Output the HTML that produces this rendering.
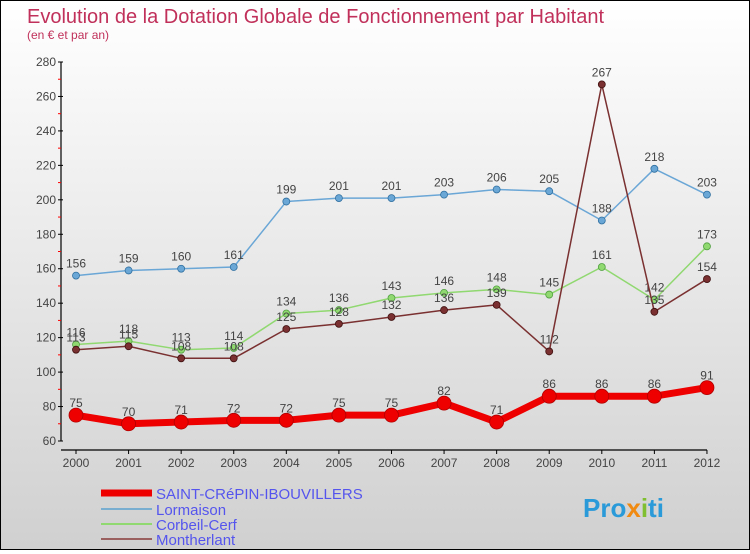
<!DOCTYPE html>
<html><head><meta charset="utf-8"><style>
html,body{margin:0;padding:0}
body{width:750px;height:550px;overflow:hidden;font-family:"Liberation Sans",sans-serif}
#c{position:absolute;left:0;top:0;width:748px;height:548px;border:1px solid #000;background:linear-gradient(#fff,#d0d0d0)}
</style></head><body>
<div id="c">
<svg id="s" width="748" height="548" xmlns="http://www.w3.org/2000/svg">
<text x="26" y="22" font-size="20" fill="#c0305a">Evolution de la Dotation Globale de Fonctionnement par Habitant</text>
<text x="26" y="38" font-size="12" fill="#c0305a">(en € et par an)</text>
<g id="axes"></g><g id="series"></g>
<g>
<line x1="100" y1="492" x2="151" y2="492" stroke="#e00" stroke-width="7"/>
<text x="155" y="498" font-size="15" fill="#5555ee">SAINT-CRéPIN-IBOUVILLERS</text>
<line x1="100" y1="508" x2="151" y2="508" stroke="#7aaed0" stroke-width="2"/>
<text x="155" y="514" font-size="15" fill="#5555ee">Lormaison</text>
<line x1="100" y1="523" x2="151" y2="523" stroke="#90d870" stroke-width="2"/>
<text x="155" y="529" font-size="15" fill="#5555ee">Corbeil-Cerf</text>
<line x1="100" y1="538" x2="151" y2="538" stroke="#9a6060" stroke-width="2"/>
<text x="155" y="544" font-size="15" fill="#5555ee">Montherlant</text>
</g>
<text x="582" y="516" font-size="26" font-weight="bold" fill="#2a9ad8">Pro<tspan fill="#f08a10">x</tspan><tspan fill="#80c030">i</tspan>ti</text>
</svg></div>
<script>
const years=[2000,2001,2002,2003,2004,2005,2006,2007,2008,2009,2010,2011,2012];
const yTicks=[60,80,100,120,140,160,180,200,220,240,260,280];
const stCrepin=[75,70,71,72,72,75,75,82,71,86,86,86,91];
const lormaison=[156,159,160,161,199,201,201,203,206,205,188,218,203];
const corbeil=[116,118,113,114,134,136,143,146,148,145,161,142,173];
const montherlant=[113,115,108,108,125,128,132,136,139,112,267,135,154];
const NS="http://www.w3.org/2000/svg";
const X=i=>75+i*52.58, Y=v=>440-(v-60)*(379/220);
function mk(t,a,p){const e=document.createElementNS(NS,t);for(const k in a)e.setAttribute(k,a[k]);p.appendChild(e);return e;}
const ax=document.getElementById('axes');
let e=mk('line',{x1:60,y1:Y(280),x2:60,y2:Y(60),stroke:'#000','stroke-width':1.2},ax);


e=mk('line',{x1:60,y1:449,x2:706,y2:449,stroke:'#000','stroke-width':1.2},ax);


yTicks.forEach(v=>{
 mk('line',{x1:57,y1:Y(v),x2:62,y2:Y(v),stroke:'#000'},ax);
 if(v<280) mk('line',{x1:57,y1:Y(v+10),x2:60,y2:Y(v+10),stroke:'#f00'},ax);
 const t=mk('text',{x:55,y:Y(v)+4,'font-size':12,fill:'#444','text-anchor':'end'},ax);t.textContent=v;
 
 
});
years.forEach((y,i)=>{
 mk('line',{x1:X(i),y1:449,x2:X(i),y2:453,stroke:'#000'},ax);
 const t=mk('text',{x:X(i),y:466,'font-size':12,fill:'#444','text-anchor':'middle'},ax);t.textContent=y;
 
 
});
const sg=document.getElementById('series');
function draw(data,color,w,r,name,dark){
 const g=mk('g',{},sg);
 
 
 mk('polyline',{points:data.map((v,i)=>X(i)+','+Y(v)).join(' '),fill:'none',stroke:color,'stroke-width':w,'stroke-linejoin':'round'},g);
 data.forEach((v,i)=>{
  const c=mk('circle',{cx:X(i),cy:Y(v),r:r,fill:color,stroke:dark,'stroke-width':0.8},g);
  
  
  const t=mk('text',{x:X(i),y:Y(v)-8,'font-size':12,fill:'#444','text-anchor':'middle'},g);t.textContent=v;
  
  
 });
}
draw(lormaison,'#6aa6d6',1.5,3.5,'lormaison','#3070a0');
draw(corbeil,'#90d870',1.5,3.5,'corbeil-cerf','#50a040');
draw(montherlant,'#7a3030',1.5,3.5,'montherlant','#401010');
draw(stCrepin,'#ee0000',7,7,'saint-crepin','#b00000');
</script>
</body></html>
